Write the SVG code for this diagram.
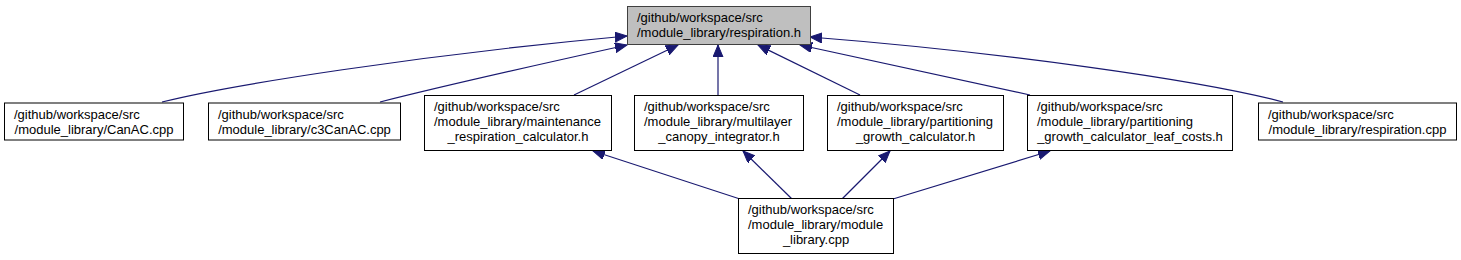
<svg xmlns="http://www.w3.org/2000/svg" width="1461" height="260" viewBox="0 0 1461 260">
<style>
text{font-family:"Liberation Sans",Arial,Helvetica,sans-serif;font-size:13px;fill:#000}
.c{text-anchor:middle}
rect{fill:#fff;stroke:#000;stroke-width:1}
#n0 rect{fill:#bfbfbf;stroke:#404040}
.e{fill:none;stroke:#191970;stroke-width:1.2;marker-end:url(#ah)}
</style>
<defs>
<marker id="ah" markerUnits="userSpaceOnUse" markerWidth="13" markerHeight="11" refX="12" refY="5" orient="auto">
<path d="M0,0 L12,5 L0,10 z" fill="#191970" stroke="#191970" stroke-width="1"/>
</marker>
</defs>
<rect x="0" y="0" width="1461" height="260" style="fill:#fff;stroke:none"/>
<g id="edges">
<path class="e" d="M162,102 C230,85 420,55 627,36"/>
<path class="e" d="M380,102 C450,84 550,62 627,45"/>
<path class="e" d="M574,95 L678,45"/>
<path class="e" d="M718,95 L718,45"/>
<path class="e" d="M860,95 L758,45"/>
<path class="e" d="M1030,95 L800,45"/>
<path class="e" d="M1283,102 C1200,80 1000,52 810,37"/>
<path class="e" d="M740,199 L593,151"/>
<path class="e" d="M792,199 L743,151"/>
<path class="e" d="M842,199 L890,151"/>
<path class="e" d="M893,199 L1050,151"/>
</g>
<g id="n0">
<rect x="627.5" y="6.5" width="183" height="38"/>
<text x="637" y="22">/github/workspace/src</text>
<text class="c" x="719" y="37">/module_library/respiration.h</text>
</g>
<g id="n1">
<rect x="4.5" y="103" width="179" height="37"/>
<text x="14" y="119">/github/workspace/src</text>
<text class="c" x="94" y="134">/module_library/CanAC.cpp</text>
</g>
<g id="n2">
<rect x="208.5" y="103" width="192" height="37"/>
<text x="218" y="119">/github/workspace/src</text>
<text class="c" x="304.5" y="134">/module_library/c3CanAC.cpp</text>
</g>
<g id="n3">
<rect x="424.5" y="95.5" width="187" height="55"/>
<text x="434" y="111">/github/workspace/src</text>
<text x="434" y="126">/module_library/maintenance</text>
<text class="c" x="518" y="141">_respiration_calculator.h</text>
</g>
<g id="n4">
<rect x="634.5" y="95.5" width="169" height="55"/>
<text x="644" y="111">/github/workspace/src</text>
<text x="644" y="126">/module_library/multilayer</text>
<text class="c" x="719" y="141">_canopy_integrator.h</text>
</g>
<g id="n5">
<rect x="827.5" y="95.5" width="176" height="55"/>
<text x="837" y="111">/github/workspace/src</text>
<text x="837" y="126">/module_library/partitioning</text>
<text class="c" x="915.5" y="141">_growth_calculator.h</text>
</g>
<g id="n6">
<rect x="1027.5" y="95.5" width="205" height="55"/>
<text x="1037" y="111">/github/workspace/src</text>
<text x="1037" y="126">/module_library/partitioning</text>
<text class="c" x="1130" y="141">_growth_calculator_leaf_costs.h</text>
</g>
<g id="n7">
<rect x="1258.5" y="103" width="198" height="37"/>
<text x="1268" y="119">/github/workspace/src</text>
<text class="c" x="1357.5" y="134">/module_library/respiration.cpp</text>
</g>
<g id="n8">
<rect x="738.5" y="198.5" width="155" height="55"/>
<text x="748" y="214">/github/workspace/src</text>
<text x="748" y="229">/module_library/module</text>
<text class="c" x="816" y="244">_library.cpp</text>
</g>
</svg>
